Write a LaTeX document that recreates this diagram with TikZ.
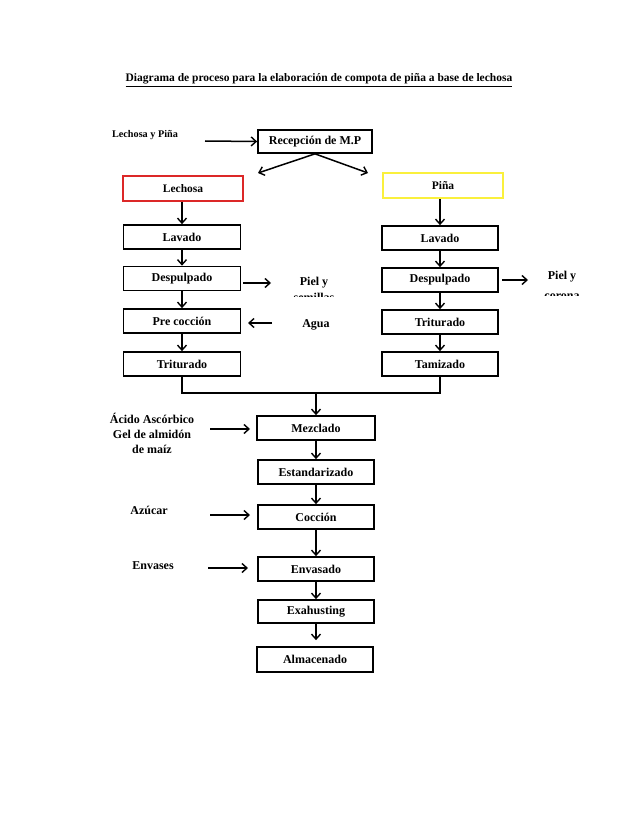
\documentclass[tikz,border=0pt]{standalone}
\usepackage{fontspec}
\setmainfont{Liberation Serif}
\usetikzlibrary{arrows.meta}
\definecolor{boxred}{RGB}{220,40,40}
\definecolor{boxyellow}{RGB}{250,240,60}
\begin{document}
\begin{tikzpicture}[x=1pt,y=-1pt,
  proc/.style={draw=black,line width=1.7pt,minimum width=116pt,minimum height=24pt,inner sep=0pt,font=\bfseries\fontsize{12}{14}\selectfont},
  lbl/.style={font=\bfseries\fontsize{12}{15}\selectfont,align=center,inner sep=0pt},
  arr/.style={line width=1.5pt,-{Straight Barb[length=5pt,width=9pt,line width=1.4pt]}},
  ln/.style={line width=1.5pt}]
\useasboundingbox (0,0) rectangle (638,826);
\fill[white] (0,0) rectangle (638,826);
% title
\node[font=\bfseries\fontsize{11.5}{13}\selectfont,inner sep=0pt,anchor=base] (title) at (319,82) {\underline{Diagrama de proceso para la elaboración de compota de piña a base de lechosa}};
% top
\node[proc,minimum width=114pt,minimum height=23pt] (rec) at (315,141.5) {Recepción de M.P};
\node[font=\bfseries\fontsize{10.2}{12}\selectfont,inner sep=0pt] (lp) at (145,135) {Lechosa y Piña};
\coordinate (lpa) at (205,141);
\draw[arr] (lpa) -- (rec.west);
\node[proc,draw=boxred,minimum width=120pt,minimum height=25pt,font=\bfseries\fontsize{11.5}{13}\selectfont] (lech) at (183,188.5) {Lechosa};
\node[proc,draw=boxyellow,minimum width=120pt,minimum height=25pt,font=\bfseries\fontsize{11.5}{13}\selectfont] (pina) at (443,185.5) {Piña};
\coordinate (sl) at (258,173);
\coordinate (sr) at (368,173);
\draw[arr] (rec.south) -- (sl);
\draw[arr] (rec.south) -- (sr);
% left column
\node[proc,minimum width=117pt] (L1) at (182,237) {Lavado};
\node[proc,minimum width=117pt] (L2) at (182,278.5) {Despulpado};
\node[proc,minimum width=117pt] (L3) at (182,321) {Pre cocción};
\node[proc,minimum width=117pt] (L4) at (182,364) {Triturado};
\draw[arr] (lech.south -| L1.north) -- (L1.north);
\draw[arr] (L1) -- (L2);
\draw[arr] (L2) -- (L3);
\draw[arr] (L3) -- (L4);
% right column
\node[proc] (R1) at (440,238) {Lavado};
\node[proc] (R2) at (440,280) {Despulpado};
\node[proc] (R3) at (440,322) {Triturado};
\node[proc] (R4) at (440,364) {Tamizado};
\draw[arr] (pina.south -| R1.north) -- (R1.north);
\draw[arr] (R1) -- (R2);
\draw[arr] (R2) -- (R3);
\draw[arr] (R3) -- (R4);
% side outputs/inputs
\coordinate (d1a) at (243,283);
\coordinate (d1b) at (271,283);
\draw[arr] (d1a) -- (d1b);
\node[lbl] (piel1) at (314,283) {Piel y};
\begin{scope}
\clip (270,290) rectangle (360,296.5);
\node[lbl,anchor=base] (sem) at (314,301) {semillas};
\end{scope}
\coordinate (ag) at (272,323);
\coordinate (agt) at (248,323);
\node[lbl] (agua) at (316,325) {Agua};
\draw[arr] (ag) -- (agt);
\coordinate (d2a) at (502,280);
\coordinate (d2b) at (528,280);
\draw[arr] (d2a) -- (d2b);
\node[lbl] (piel2) at (562,277) {Piel y};
\begin{scope}
\clip (520,284) rectangle (610,295.5);
\node[lbl,anchor=base] (cor) at (562,299) {corona};
\end{scope}
% merge
\coordinate (m) at (316,393);
\coordinate (mr) at (440,393);
\draw[ln] (L4.south) |- (mr) -- (R4.south);
% centre column
\node[proc,minimum width=118pt] (mez) at (316,428) {Mezclado};
\node[proc] (est) at (316,472) {Estandarizado};
\node[proc] (coc) at (316,517) {Cocción};
\node[proc] (env) at (316,569) {Envasado};
\node[proc,minimum height=23pt] (exa) at (316,611.5) {Exahusting};
\node[proc,minimum height=25pt] (alm) at (315,659.5) {Almacenado};
\draw[arr] (m) -- (mez.north);
\draw[arr] (mez) -- (est);
\draw[arr] (est) -- (coc);
\draw[arr] (coc) -- (env);
\draw[arr] (env) -- (exa);
\draw[arr] (exa.south) -- ([yshift=6pt]alm.north -| exa.south);
% inputs
\node[lbl] (acido) at (152,433) {Ácido Ascórbico\\Gel de almidón\\de maíz};
\coordinate (aca) at (210,429);
\coordinate (acb) at (250,429);
\draw[arr] (aca) -- (acb);
\node[lbl] (azu) at (149,510) {Azúcar};
\coordinate (aza) at (210,515);
\coordinate (azb) at (250,515);
\draw[arr] (aza) -- (azb);
\node[lbl] (envs) at (153,566) {Envases};
\coordinate (ena) at (208,568);
\coordinate (enb) at (248,568);
\draw[arr] (ena) -- (enb);
\end{tikzpicture}
\end{document}
